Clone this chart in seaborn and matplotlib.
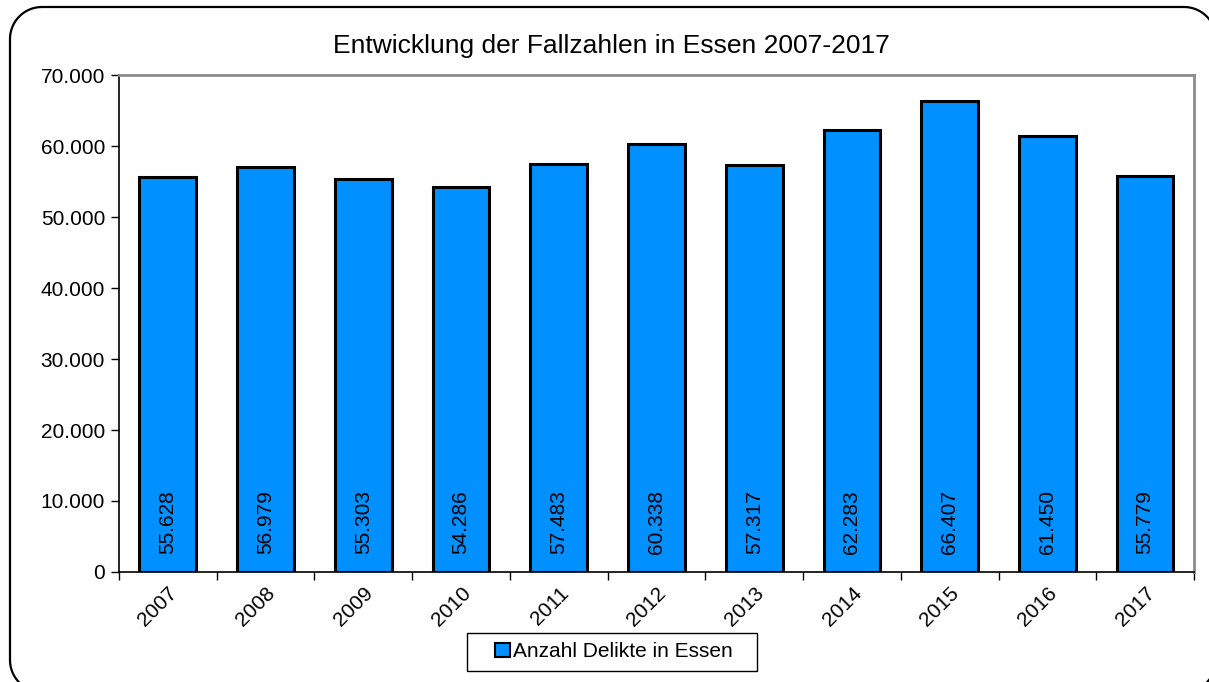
import numpy as np
import pandas as pd
import seaborn as sns
import matplotlib.pyplot as plt
from matplotlib.patches import Rectangle
from matplotlib.lines import Line2D
from matplotlib.ticker import FuncFormatter, FixedLocator

sns.set_style('white')
plt.rcParams['font.family'] = ['Liberation Sans', 'DejaVu Sans']
plt.rcParams['text.color'] = 'black'
plt.rcParams['xtick.color'] = 'black'
plt.rcParams['ytick.color'] = 'black'

years = ['2007', '2008', '2009', '2010', '2011', '2012', '2013', '2014', '2015', '2016', '2017']
cases = [55628, 56979, 55303, 54286, 57483, 60338, 57317, 62283, 66407, 61450, 55779]

df = pd.DataFrame({'Jahr': years, 'Anzahl Delikte in Essen': cases})

fig = plt.figure(figsize=(12.09, 6.82), dpi=100)
ax = fig.add_axes([0.0984, 0.1613, 0.8892, 0.7287])

sns.barplot(data=df, x='Jahr', y='Anzahl Delikte in Essen', color='#0090ff',
            saturation=1, width=0.58, edgecolor='black', linewidth=2.2, ax=ax,
            label='Anzahl Delikte in Essen')

for i, v in enumerate(cases):
    ax.text(i, 7000, '{:,}'.format(v).replace(',', '.'), rotation=90,
            ha='center', va='center', fontsize=15, color='black')

ax.set_ylim(0, 70000)
ax.set_xlim(-0.5, len(years) - 0.5)
ax.set_yticks(np.arange(0, 70001, 10000))
ax.yaxis.set_major_formatter(FuncFormatter(lambda v, p: '{:,.0f}'.format(v).replace(',', '.')))
ax.tick_params(axis='y', direction='out', length=6, width=1, labelsize=15, pad=4, left=True,
               colors='black')
ax.tick_params(axis='x', which='major', length=0, labelsize=15, pad=8, bottom=True,
               colors='black')
ax.xaxis.set_minor_locator(FixedLocator(np.arange(-0.5, len(years), 1)))
ax.tick_params(axis='x', which='minor', direction='out', length=6, width=1, bottom=True,
               colors='black')
plt.setp(ax.get_xticklabels(), rotation=45, ha='right', rotation_mode='anchor')
ax.set_xlabel('')
ax.set_ylabel('')

for side in ['left', 'bottom']:
    ax.spines[side].set_color('black')
    ax.spines[side].set_linewidth(1.2)
for side in ['top', 'right']:
    ax.spines[side].set_color('#8c8c8c')
    ax.spines[side].set_linewidth(2)

fig.text(0.506, 0.933, 'Entwicklung der Fallzahlen in Essen 2007-2017', ha='center',
         va='center', fontsize=19, color='black')

leg = ax.legend(loc='center', bbox_to_anchor=(0.508, 0.0445), bbox_transform=fig.transFigure,
                fontsize=15, frameon=False, handlelength=0.7, handleheight=0.7,
                handletextpad=0.15, borderpad=0.45, borderaxespad=0, labelcolor='black')
for h in leg.legend_handles:
    h.set_linewidth(1.5)

# legend frame, drawn in pixel coordinates
fig.patches.append(Rectangle((467, 11), 290, 38, transform=None, fill=False,
                             edgecolor='black', linewidth=1))

# rounded outer border as a polyline (pixel coordinates), partly off-canvas like the original
x0, x1, y0, y1, r = 10, 1216, -10, 675, 32
xs, ys = [], []
for cx, cy, a0 in [(x1 - r, y1 - r, 0), (x0 + r, y1 - r, 90), (x0 + r, y0 + r, 180), (x1 - r, y0 + r, 270)]:
    t = np.radians(np.linspace(a0, a0 + 90, 30))
    xs.extend(cx + r * np.cos(t))
    ys.extend(cy + r * np.sin(t))
xs.append(xs[0])
ys.append(ys[0])
fig.lines.append(Line2D(xs, ys, transform=None, color='black', linewidth=1.6))

fig.savefig('out.png', dpi=100)
